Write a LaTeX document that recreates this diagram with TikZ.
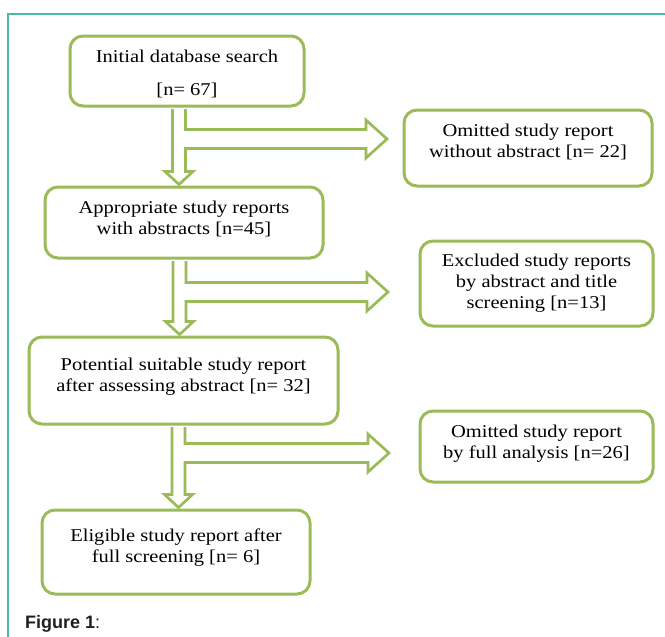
\documentclass[tikz,border=0pt]{standalone}
\usepackage{fontspec}
\setmainfont{Liberation Serif}[FakeStretch=1.14]
\newfontfamily\capfont{Liberation Sans}
\usetikzlibrary{calc}
\definecolor{boxgreen}{HTML}{9BBB59}
\definecolor{frameteal}{HTML}{45BCA4}
\definecolor{captext}{HTML}{231F20}
\tikzset{
  box/.style={draw=boxgreen, line width=3pt, rounded corners=13pt, fill=white,
    inner sep=0pt},
  txt/.style={align=center, inner sep=0pt, text=black,
    font=\fontsize{18}{21}\selectfont},
  tarrow/.style={draw=boxgreen, line width=2.7pt, line join=miter, fill=white}
}
\newcommand{\TArrow}[4]{%
  \draw[tarrow]
    ($(#1.south -| #3)+(-6.5,1.5)$) -- ($(#2.north -| #3)+(-6.5,-14)$)
    -- ($(#2.north -| #3)+(-14,-14)$) -- ($(#2.north -| #3)+(0,-1)$)
    -- ($(#2.north -| #3)+(14,-14)$) -- ($(#2.north -| #3)+(6.5,-14)$)
    -- ($(#3)+(6.5,9.5)$) -- ($(#4)+(-21,9.5)$) -- ($(#4)+(-21,19)$)
    -- (#4) -- ($(#4)+(-21,-19)$) -- ($(#4)+(-21,-9.5)$)
    -- ($(#3)+(6.5,-9.5)$) -- ($(#1.south -| #3)+(6.5,1.5)$);
}
\begin{document}
\begin{tikzpicture}[x=1pt,y=-1pt]
\useasboundingbox (0,0) rectangle (665,637);
\fill[white] (0,0) rectangle (665,637);
% frame
\draw[frameteal, line width=1.6pt] (8,637) -- (8,14) -- (665,14);

% boxes
\node[box, minimum width=234, minimum height=70] (B1) at (187,71) {};
\node[box, minimum width=248, minimum height=76] (B2) at (528,148) {};
\node[box, minimum width=278, minimum height=71] (B3) at (184,222.5) {};
\node[box, minimum width=233, minimum height=85] (B4) at (536.5,283.5) {};
\node[box, minimum width=309, minimum height=87] (B5) at (183.5,380.5) {};
\node[box, minimum width=233, minimum height=71] (B6) at (536.5,446.5) {};
\node[box, minimum width=268, minimum height=84] (B7) at (176,552) {};

% texts
\node[txt] (T1) at ($(B1.center)+(0,3.8)$)
  {\strut Initial database search\\[12pt]\strut{[n= 67]}};
\node[txt] (T2) at ($(B2.center)+(0,-5.7)$)
  {\strut Omitted study report\\\strut without abstract [n= 22]};
\node[txt] (T3) at ($(B3.center)+(0,-2.7)$)
  {\strut Appropriate study reports\\\strut with abstracts [n=45]};
\node[txt] (T4) at ($(B4.center)+(0,-0.2)$)
  {\strut Excluded study reports\\\strut by abstract and title\\\strut screening [n=13]};
\node[txt] (T5) at ($(B5.center)+(0,-4.2)$)
  {\strut Potential suitable study report\\\strut after assessing abstract [n= 32]};
\node[txt] (T6) at ($(B6.center)+(0,-2.7)$)
  {\strut Omitted study report\\\strut by full analysis [n=26]};
\node[txt] (T7) at ($(B7.center)+(0,-4.2)$)
  {\strut Eligible study report after\\\strut full screening [n= 6]};

% junction and tip coordinates
\coordinate (j1) at (179,139);
\coordinate (h1) at (387,139);
\coordinate (j2) at (179.5,292);
\coordinate (h2) at (388,292);
\coordinate (j3) at (178.5,453);
\coordinate (h3) at (389,453);

\TArrow{B1}{B3}{j1}{h1}
\TArrow{B3}{B5}{j2}{h2}
\TArrow{B5}{B7}{j3}{h3}

% caption
\node[anchor=base west, inner sep=0pt, text=captext, font=\capfont\fontsize{18}{21}\selectfont] (cap) at (25,628)
  {\textbf{Figure 1}:};
\end{tikzpicture}
\end{document}
